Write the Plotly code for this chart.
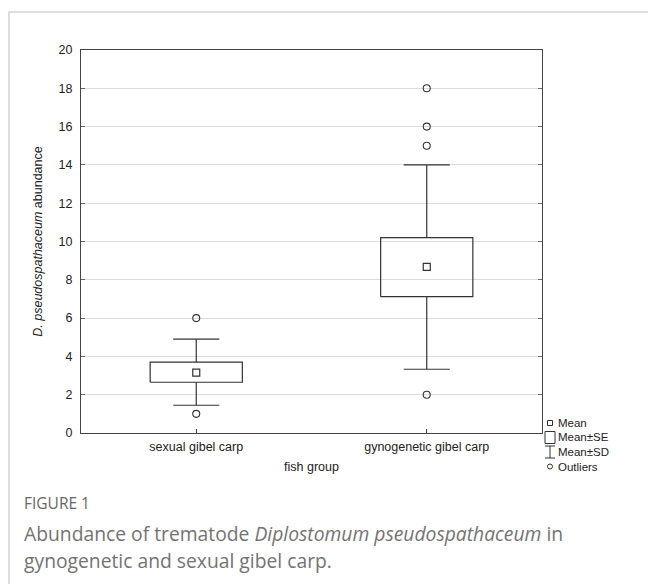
import plotly.graph_objects as go

# ---- data ----
categories = ["sexual gibel carp", "gynogenetic gibel carp"]
means = [3.15, 8.67]
se_low = [2.65, 7.12]
se_high = [3.70, 10.20]
sd_low = [1.45, 3.33]
sd_high = [4.90, 14.00]
outliers = [[1, 6], [2, 15, 16, 18]]
yticks = list(range(0, 21, 2))

# ---- layout constants (pixels) ----
W, H = 648, 584
L, R, T, B = 81, 542, 50, 433
BOX_HALF = 0.2
CAP_HALF = 0.1
LINE = "#333333"


def px(x):
    return (x - L) / (R - L)


def py(y):
    return (B - y) / (B - T)


pos = list(range(len(categories)))

box_x, box_y = [], []
wh_x, wh_y = [], []
for c, lo, hi, sl, sh in zip(pos, se_low, se_high, sd_low, sd_high):
    box_x += [c - BOX_HALF, c + BOX_HALF, c + BOX_HALF, c - BOX_HALF, c - BOX_HALF, None]
    box_y += [lo, lo, hi, hi, lo, None]
    wh_x += [c, c, None, c, c, None,
             c - CAP_HALF, c + CAP_HALF, None, c - CAP_HALF, c + CAP_HALF, None]
    wh_y += [hi, sh, None, lo, sl, None, sh, sh, None, sl, sl, None]

out_x, out_y = [], []
for c, vals in zip(pos, outliers):
    out_x += [c] * len(vals)
    out_y += vals

fig = go.Figure()
fig.add_trace(go.Scatter(x=box_x, y=box_y, mode="lines",
                         line=dict(color=LINE, width=1.2), hoverinfo="skip"))
fig.add_trace(go.Scatter(x=wh_x, y=wh_y, mode="lines",
                         line=dict(color=LINE, width=1.2), hoverinfo="skip"))
fig.add_trace(go.Scatter(x=pos, y=means, mode="markers",
                         marker=dict(symbol="square-open", size=7,
                                     color=LINE, line=dict(width=1.2))))
fig.add_trace(go.Scatter(x=out_x, y=out_y, mode="markers",
                         marker=dict(symbol="circle-open", size=7,
                                     color=LINE, line=dict(width=1.1))))

font_ax = dict(family="Liberation Sans, Arial, sans-serif", size=12.5, color="#222222")

fig.update_layout(
    width=W, height=H,
    margin=dict(l=L, r=W - R, t=T, b=H - B, pad=0),
    paper_bgcolor="white", plot_bgcolor="white",
    showlegend=False,
    font=font_ax,
    xaxis=dict(range=[-0.5, 1.5], tickvals=pos, ticktext=categories,
               showgrid=False, zeroline=False, showline=True, mirror=True,
               linecolor="#444444", linewidth=1.2, ticks="inside", ticklen=4,
               tickcolor="#444444", tickfont=font_ax, ticklabelstandoff=2,
               title=dict(text="fish group", font=font_ax, standoff=9)),
    yaxis=dict(range=[0, 20], tickvals=yticks, showgrid=True, gridcolor="#dcdcdc",
               gridwidth=1, zeroline=False, showline=True, mirror="ticks",
               linecolor="#444444", linewidth=1.2, ticks="inside", ticklen=4,
               tickcolor="#666666", tickfont=font_ax, ticklabelstandoff=5,
               title=dict(text="<i>D. pseudospathaceum</i> abundance",
                          font=font_ax, standoff=13)),
)

# ---- figure frame (light gray border top & left) ----
fig.add_shape(type="line", xref="paper", yref="paper",
              x0=px(8), x1=px(W + 5), y0=py(12), y1=py(12),
              line=dict(color="#dedede", width=2))
fig.add_shape(type="line", xref="paper", yref="paper",
              x0=px(9), x1=px(9), y0=py(12), y1=py(H + 5),
              line=dict(color="#dedede", width=2))

# ---- legend (drawn key) ----
leg_font = dict(family="Liberation Sans, Arial, sans-serif", size=11.5, color="#222222")
leg_items = ["Mean", "Mean\u00b1SE", "Mean\u00b1SD", "Outliers"]
leg_y = [423, 437.5, 452, 466.5]
sym_cx = 550
for label, yy in zip(leg_items, leg_y):
    fig.add_annotation(xref="paper", yref="paper", x=px(556), y=py(yy),
                       text=label, showarrow=False, xanchor="left",
                       yanchor="middle", font=leg_font)
# mean square
fig.add_shape(type="rect", xref="paper", yref="paper",
              x0=px(sym_cx - 2.5), x1=px(sym_cx + 2.5),
              y0=py(leg_y[0] - 2.5), y1=py(leg_y[0] + 2.5),
              line=dict(color=LINE, width=1))
# SE box
fig.add_shape(type="rect", xref="paper", yref="paper",
              x0=px(sym_cx - 5), x1=px(sym_cx + 5),
              y0=py(leg_y[1] - 6), y1=py(leg_y[1] + 6),
              line=dict(color=LINE, width=1))
# SD whisker
fig.add_shape(type="line", xref="paper", yref="paper",
              x0=px(sym_cx), x1=px(sym_cx),
              y0=py(leg_y[2] - 6), y1=py(leg_y[2] + 6),
              line=dict(color=LINE, width=1))
fig.add_shape(type="line", xref="paper", yref="paper",
              x0=px(sym_cx - 5), x1=px(sym_cx + 5),
              y0=py(leg_y[2] - 6), y1=py(leg_y[2] - 6),
              line=dict(color=LINE, width=1))
fig.add_shape(type="line", xref="paper", yref="paper",
              x0=px(sym_cx - 5), x1=px(sym_cx + 5),
              y0=py(leg_y[2] + 6), y1=py(leg_y[2] + 6),
              line=dict(color=LINE, width=1))
# outlier circle
fig.add_shape(type="circle", xref="paper", yref="paper",
              x0=px(sym_cx - 2.5), x1=px(sym_cx + 2.5),
              y0=py(leg_y[3] - 2.5), y1=py(leg_y[3] + 2.5),
              line=dict(color=LINE, width=1))

# ---- caption ----
cap_x = px(22)
fig.add_annotation(xref="paper", yref="paper", x=cap_x, y=py(503),
                   text="FIGURE 1", showarrow=False, xanchor="left", yanchor="middle",
                   font=dict(family="Open Sans, sans-serif", size=15.5, color="#666666"))
fig.add_annotation(xref="paper", yref="paper", x=cap_x, y=py(533),
                   text="Abundance of trematode <i>Diplostomum pseudospathaceum</i> in",
                   showarrow=False, xanchor="left", yanchor="middle",
                   font=dict(family="Open Sans, sans-serif", size=19.3, color="#737373"))
fig.add_annotation(xref="paper", yref="paper", x=cap_x, y=py(560),
                   text="gynogenetic and sexual gibel carp.",
                   showarrow=False, xanchor="left", yanchor="middle",
                   font=dict(family="Open Sans, sans-serif", size=19.3, color="#737373"))

fig.write_html("out.html")
